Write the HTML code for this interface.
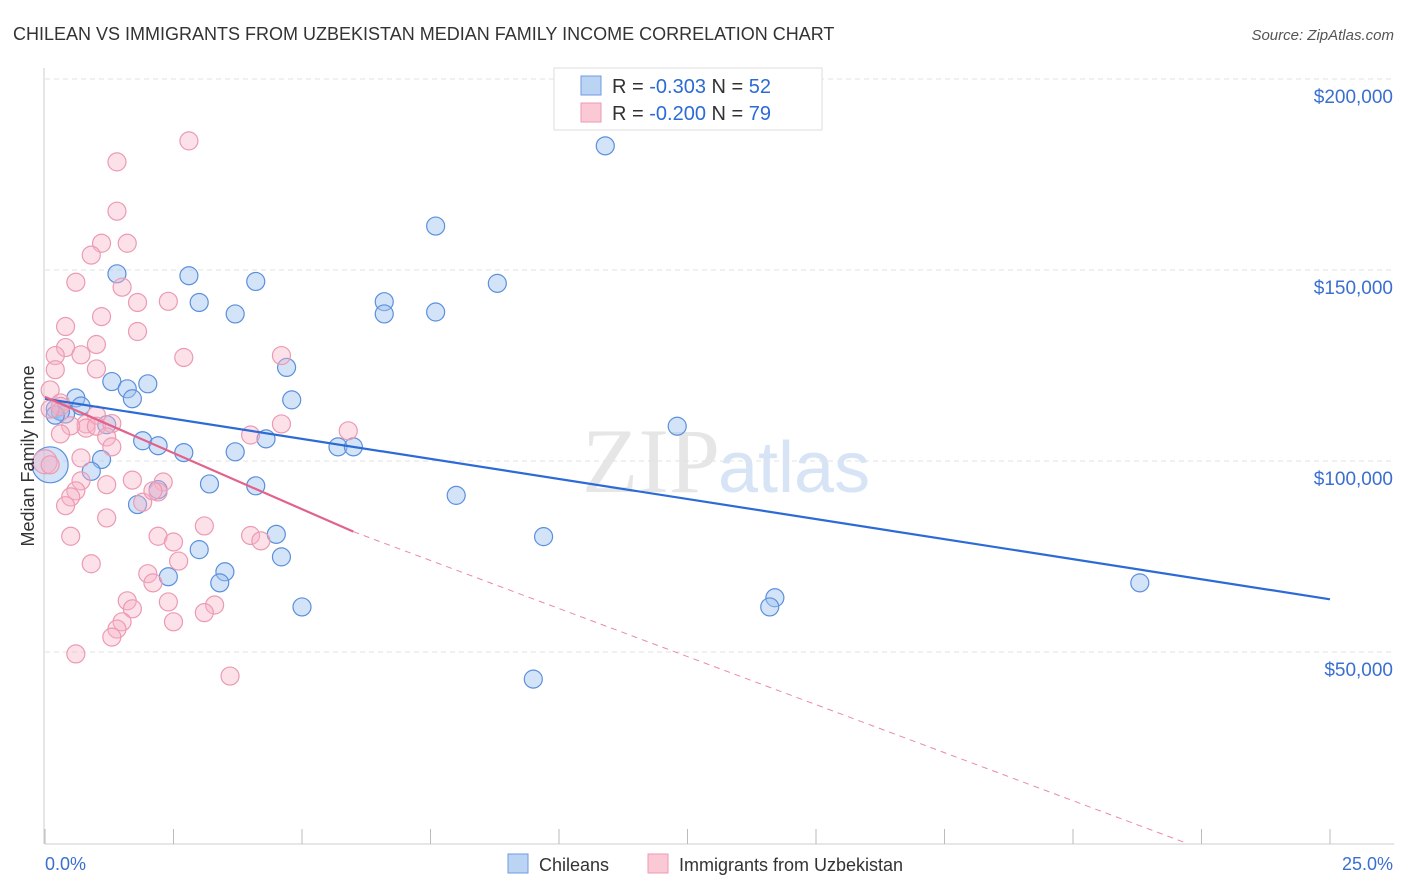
<!DOCTYPE html>
<html><head><meta charset="utf-8">
<style>
body{margin:0;background:#fff;font-family:"Liberation Sans",sans-serif;}
svg{display:block}
</style></head>
<body>
<svg id="chart" width="1406" height="892" xmlns="http://www.w3.org/2000/svg">
<text x="13" y="40" font-size="18" fill="#333" font-family="Liberation Sans, sans-serif">CHILEAN VS IMMIGRANTS FROM UZBEKISTAN MEDIAN FAMILY INCOME CORRELATION CHART</text>
<text x="1394" y="40" font-size="15" fill="#555" font-style="italic" text-anchor="end">Source: ZipAtlas.com</text>
<text x="720" y="492" font-size="92" fill="#e6e6e6" text-anchor="end" font-family="Liberation Serif, serif">ZIP</text>
<text x="718" y="492" font-size="72" fill="#d6e4f5">atlas</text>
<g id="grid"></g>
<line x1="45" y1="844" x2="1394" y2="844" stroke="#ccc"/>
<line x1="44" y1="68" x2="44" y2="844" stroke="#ccc"/>
<g id="ticks"></g>
<g id="pts"></g>
<g id="trends"></g>
<text transform="translate(34,456) rotate(-90)" font-size="18" fill="#333" text-anchor="middle">Median Family Income</text>
<text x="45" y="870" font-size="18" fill="#3a6fd0">0.0%</text>
<text x="1393" y="870" font-size="18" fill="#3a6fd0" text-anchor="end">25.0%</text>
<g>
<rect x="554" y="68" width="268" height="62" fill="#fff" stroke="#ddd"/>
<rect x="581" y="76" width="20" height="19" fill="#bcd4f4" stroke="#6d9be0"/>
<rect x="581" y="103" width="20" height="19" fill="#fbc8d6" stroke="#ec9ab2"/>
<text x="612" y="93" font-size="20" fill="#333">R = <tspan fill="#2c6bd6">-0.303</tspan>   N = <tspan fill="#2c6bd6">52</tspan></text>
<text x="612" y="120" font-size="20" fill="#333">R = <tspan fill="#2c6bd6">-0.200</tspan>   N = <tspan fill="#2c6bd6">79</tspan></text>
</g>
<g>
<rect x="508" y="854" width="20" height="19" fill="#bcd4f4" stroke="#6d9be0"/>
<text x="539" y="871" font-size="18" fill="#333">Chileans</text>
<rect x="648" y="854" width="20" height="19" fill="#fbc8d6" stroke="#ec9ab2"/>
<text x="679" y="871" font-size="18" fill="#333">Immigrants from Uzbekistan</text>
</g>
</svg>
<script>
const yTicks=[50000,100000,150000,200000];
const yTickLabels=["$50,000","$100,000","$150,000","$200,000"];
const xTicks=[0,2.5,5,7.5,10,12.5,15,17.5,20,22.5,25];
// Chileans [x%, income]
const chileX=[10.9,7.6,1.4,2.8,4.1,3.0,3.7,6.6,6.6,7.6,8.8,4.7,1.3,1.6,2.0,1.7,0.6,0.7,0.2,0.4,1.2,4.8,1.9,2.2,2.7,3.7,4.3,5.7,6.0,12.3,1.1,0.9,3.2,4.1,8.0,1.8,2.2,9.7,4.5,3.0,4.6,3.5,3.4,2.4,5.0,21.3,14.2,14.1,9.5,0.1,0.3,0.2];
const chileY=[182500,161500,149000,148500,147000,141500,138500,141700,138500,139000,146500,124500,120800,118900,120200,116300,116500,114400,113600,112300,109500,116000,105300,104000,102200,102400,105800,103700,103700,109100,100400,97300,94000,93500,91000,88600,92500,80200,80800,76800,74900,71000,68100,69700,61800,68100,64200,61800,42900,99000,113000,112000];
// Immigrants from Uzbekistan
const uzX=[2.8,1.4,1.4,1.6,1.1,0.9,0.6,1.5,1.8,2.4,1.1,0.4,1.8,1.0,0.4,0.2,0.7,2.7,4.6,0.2,1.0,0.1,0.3,0.3,0.1,1.0,0.8,0.8,1.0,1.3,0.5,4.6,4.0,0.3,1.2,5.9,1.3,0.7,0.0,0.1,1.7,2.3,1.2,0.7,0.6,0.5,2.2,0.4,1.2,3.1,4.0,2.2,0.5,4.2,2.5,2.6,0.9,2.0,2.1,1.6,2.4,3.3,1.7,3.1,2.5,1.5,1.4,1.3,0.6,3.6,1.9,2.1];
const uzY=[183800,178300,165400,157000,157000,153900,146800,145500,141500,141800,137800,135200,133900,130500,129700,127600,127800,127100,127600,123900,124100,118600,115200,114300,113600,112000,109700,108600,109100,109800,109200,109700,106800,107100,106300,107900,103700,100800,99800,99000,95000,94500,93800,94800,92200,90600,91900,88300,85100,83000,80500,80300,80300,79100,78800,73800,73100,70500,68100,63400,63100,62300,61300,60300,57900,57900,56000,53900,49500,43700,89200,92200];
const X=v=>45+v/25*1285;
const Y=v=>843-v/200000*764;
const NS="http://www.w3.org/2000/svg";
function mk(tag,attrs,parent){const e=document.createElementNS(NS,tag);for(const k in attrs)e.setAttribute(k,attrs[k]);document.getElementById(parent).appendChild(e);return e;}
yTicks.forEach((t,i)=>{
 const l=mk('line',{x1:45,x2:1394,y1:Y(t),y2:Y(t),stroke:'#e2e2e2','stroke-dasharray':'5,4'},'grid');
 
 
 const tx=mk('text',{x:1393,y:Y(t)+24,'font-size':19,fill:'#3a6fd0','text-anchor':'end'},'grid');
 tx.textContent=yTickLabels[i];
 
 
});
{const l=mk('line',{x1:45,x2:1394,y1:79,y2:79,stroke:'#e2e2e2','stroke-dasharray':'5,4'},'grid');

}
xTicks.forEach(t=>{
 const l=mk('line',{x1:X(t),x2:X(t),y1:829,y2:844,stroke:'#bbb'},'ticks');
 
 
});
chileX.forEach((v,i)=>{
 const big=i===49;
 const c=mk('circle',{cx:X(v),cy:Y(chileY[i]),r:big?18:9,fill:'rgba(160,195,240,0.45)',stroke:'#5b8fdd','stroke-width':1.2},'pts');
 
 
});
uzX.forEach((v,i)=>{
 const big=i===38;
 const c=mk('circle',{cx:X(v),cy:Y(uzY[i]),r:big?12:9,fill:'rgba(248,180,200,0.4)',stroke:'#ec9ab2','stroke-width':1.2},'pts');
 
 
});
// trend lines [x0,y0,x1,y1]
const chileTrend=[0,116300,25,63800];
const uzTrend=[0,116800,6.0,81500];
const uzTrendExt=[6.0,81500,22.2,0];
let t=mk('line',{x1:X(chileTrend[0]),y1:Y(chileTrend[1]),x2:X(chileTrend[2]),y2:Y(chileTrend[3]),stroke:'#2c6bd6','stroke-width':2.2},'trends');


t=mk('line',{x1:X(uzTrend[0]),y1:Y(uzTrend[1]),x2:X(uzTrend[2]),y2:Y(uzTrend[3]),stroke:'#e2628a','stroke-width':2.2},'trends');


t=mk('line',{x1:X(uzTrendExt[0]),y1:Y(uzTrendExt[1]),x2:X(uzTrendExt[2]),y2:Y(uzTrendExt[3]),stroke:'#e98aa8','stroke-width':1,'stroke-dasharray':'6,5'},'trends');


</script>
</body></html>
